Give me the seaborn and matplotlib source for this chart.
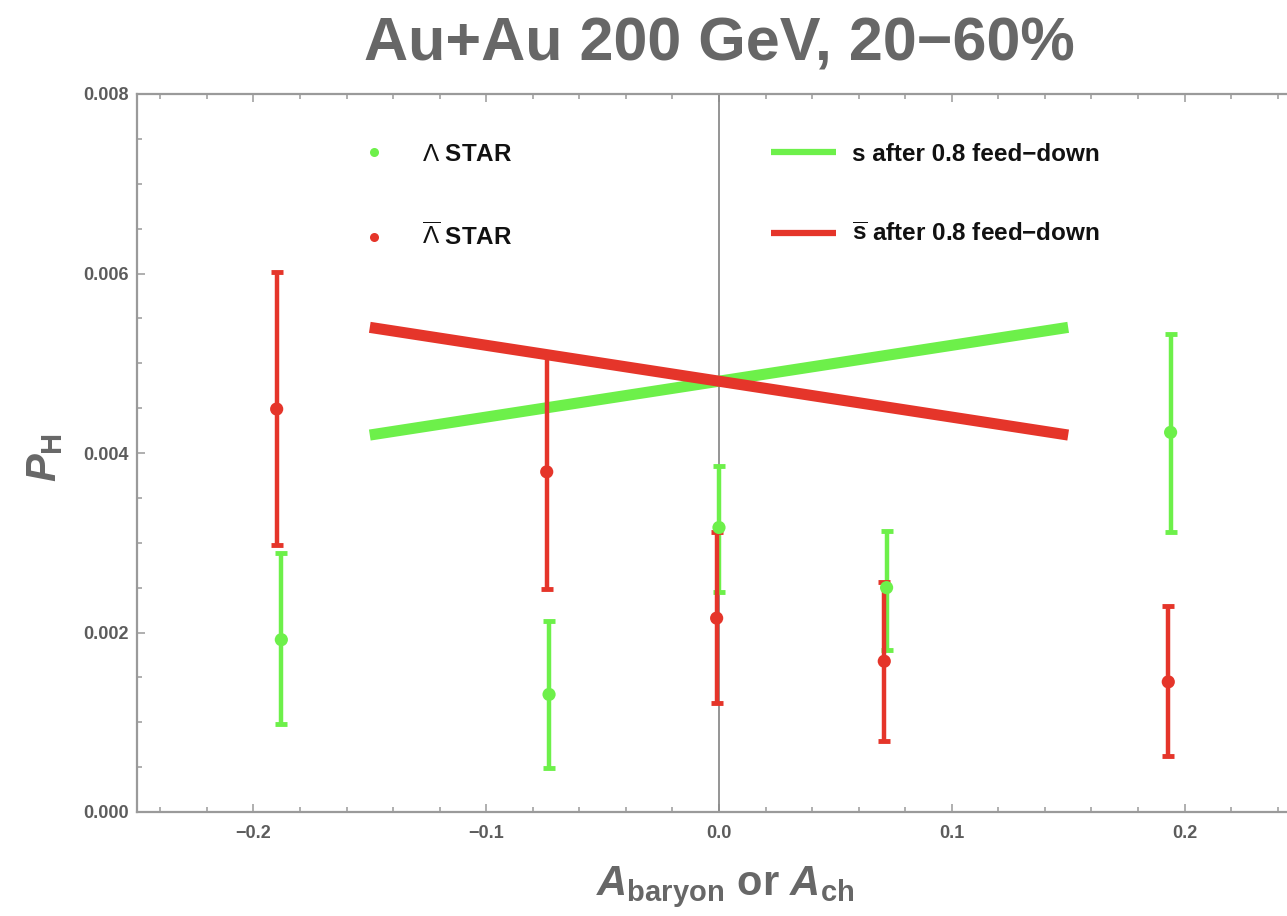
import numpy as np
import pandas as pd
import matplotlib
matplotlib.use("Agg")
import matplotlib.pyplot as plt
from matplotlib.lines import Line2D
from matplotlib.ticker import MultipleLocator, FixedLocator, FixedFormatter
import seaborn as sns

# Lambda / anti-Lambda polarization (STAR), value with lower/upper error bounds
lam_x = [-0.188, -0.073, 0.000, 0.072, 0.194]
lam_p = [0.00192, 0.00131, 0.00317, 0.00250, 0.00423]
lam_lo = [0.00098, 0.00049, 0.00245, 0.00180, 0.00312]
lam_hi = [0.00289, 0.00213, 0.00386, 0.00313, 0.00533]

alam_x = [-0.190, -0.074, -0.001, 0.071, 0.193]
alam_p = [0.00449, 0.00379, 0.00216, 0.00168, 0.00145]
alam_lo = [0.00297, 0.00248, 0.00121, 0.00079, 0.00062]
alam_hi = [0.00602, 0.00508, 0.00312, 0.00256, 0.00229]

# quark polarization after 0.8 feed-down
model_x = [-0.15, 0.15]
s_model = [0.0042, 0.0054]
sbar_model = [0.0054, 0.0042]

x_ticks = [-0.2, -0.1, 0.0, 0.1, 0.2]
x_ticklabels = ["\u22120.2", "\u22120.1", "0.0", "0.1", "0.2"]
y_ticks = [0.000, 0.002, 0.004, 0.006, 0.008]
y_ticklabels = ["0.000", "0.002", "0.004", "0.006", "0.008"]

GREEN = "#6df04a"
RED = "#e5352a"
GRAY = "#676767"
AXIS = "#9a9a9a"

sns.set_theme(style="white")
plt.rcParams["font.family"] = ["Liberation Sans", "DejaVu Sans"]
plt.rcParams["mathtext.fontset"] = "custom"
plt.rcParams["mathtext.rm"] = "Liberation Sans:bold"
plt.rcParams["mathtext.bf"] = "Liberation Sans:bold"
plt.rcParams["mathtext.sf"] = "Liberation Sans"
plt.rcParams["mathtext.it"] = "Liberation Sans:bold:italic"

W, H = 1287, 916
fig = plt.figure(figsize=(W / 100, H / 100), dpi=100)
ax = fig.add_axes([137 / W, 104 / H, (W - 137) / W, 718 / H])

ax.axvline(0.0, color="#8c8c8c", lw=1.3, zorder=1)

lines = pd.DataFrame({
    "A": model_x * 2,
    "P": s_model + sbar_model,
    "curve": ["s"] * len(model_x) + ["sbar"] * len(model_x),
})
sns.lineplot(data=lines, x="A", y="P", hue="curve", palette={"s": GREEN, "sbar": RED},
             lw=8, legend=False, ax=ax, zorder=3)
for ln in ax.lines[1:]:
    ln.set_solid_capstyle("butt")

for xs, ps, lo, hi, col in [(lam_x, lam_p, lam_lo, lam_hi, GREEN),
                            (alam_x, alam_p, alam_lo, alam_hi, RED)]:
    ps_a = np.array(ps)
    yerr = [ps_a - np.array(lo), np.array(hi) - ps_a]
    ax.errorbar(xs, ps, yerr=yerr, fmt="none", ecolor=col, elinewidth=3.2,
                capsize=4.5, capthick=3.5, zorder=4)
    sns.scatterplot(x=xs, y=ps, color=col, s=90, edgecolor="none", ax=ax, zorder=5)

ax.set_xlim(-0.25, 0.244)
ax.set_ylim(0.0, 0.008)
ax.xaxis.set_major_locator(FixedLocator(x_ticks))
ax.xaxis.set_major_formatter(FixedFormatter(x_ticklabels))
ax.xaxis.set_minor_locator(MultipleLocator(0.02))
ax.yaxis.set_major_locator(FixedLocator(y_ticks))
ax.yaxis.set_major_formatter(FixedFormatter(y_ticklabels))
ax.yaxis.set_minor_locator(MultipleLocator(0.0005))

for side in ["left", "bottom", "top"]:
    ax.spines[side].set_color(AXIS)
    ax.spines[side].set_linewidth(1.6)
ax.spines["right"].set_visible(False)

ax.tick_params(which="both", direction="in", color=AXIS, width=1.1,
               top=True, bottom=True, left=True, right=False)
ax.tick_params(which="major", length=6)
ax.tick_params(which="minor", length=3.5)
ax.tick_params(axis="x", which="major", pad=9, labelsize=13, labelcolor="#5c5c5c")
ax.tick_params(axis="y", which="major", pad=6, labelsize=13, labelcolor="#5c5c5c")
for t in ax.get_xticklabels() + ax.get_yticklabels():
    t.set_fontweight("bold")

ax.set_xlabel(r"$A_{\mathbf{baryon}}$ or $A_{\mathbf{ch}}$", fontsize=30,
              fontweight="bold", color=GRAY)
ax.xaxis.label.set_va("center")
ax.xaxis.set_label_coords((725 - 137) / 1150, -(887 - 812) / 718)
ax.set_ylabel(r"$P_{\mathbf{H}}$", fontsize=30, color=GRAY)
ax.yaxis.label.set_va("center")
ax.yaxis.set_label_coords((45 - 137) / 1150, (814 - 460) / 718)

fig.text(719 / W, 1 - 45 / H, "Au+Au 200 GeV, 20\u221260%", ha="center", va="center",
         fontsize=44, fontweight="bold", color=GRAY)

# legend: data points (left column) and model curves (right column)
fs = 17.5
pt_handles = [Line2D([], [], ls="none", marker="o", ms=6.5, color=GREEN, mec="none"),
              Line2D([], [], ls="none", marker="o", ms=6.5, color=RED, mec="none")]
pt_labels = [r"$\mathsf{\Lambda}$ STAR", r"$\overline{\mathsf{\Lambda}}$ STAR"]
ln_handles = [Line2D([], [], color=GREEN, lw=4.5, solid_capstyle="butt"),
              Line2D([], [], color=RED, lw=4.5, solid_capstyle="butt")]
ln_labels = ["s after 0.8 feed\u2212down",
             r"$\overline{\mathrm{s}}$" + " after 0.8 feed\u2212down"]

em = fs * 100 / 72
leg_top = 1 - 143 / H
leg1 = ax.legend(pt_handles, pt_labels, loc="upper left", frameon=False,
                 bbox_to_anchor=((374 - em / 2) / W, leg_top), bbox_transform=fig.transFigure,
                 prop={"size": fs, "weight": "bold"}, borderpad=0, borderaxespad=0,
                 handlelength=1.0, handletextpad=(422 - 374 - em / 2) / em,
                 labelspacing=2.35)
ax.add_artist(leg1)
leg2 = ax.legend(ln_handles, ln_labels, loc="upper left", frameon=False,
                 bbox_to_anchor=(771 / W, leg_top), bbox_transform=fig.transFigure,
                 prop={"size": fs, "weight": "bold"}, borderpad=0, borderaxespad=0,
                 handlelength=65 / em, handletextpad=(852 - 836) / em,
                 labelspacing=2.35)
for leg in (leg1, leg2):
    for t in leg.get_texts():
        t.set_color("#111111")

fig.savefig("out.png", dpi=100)
